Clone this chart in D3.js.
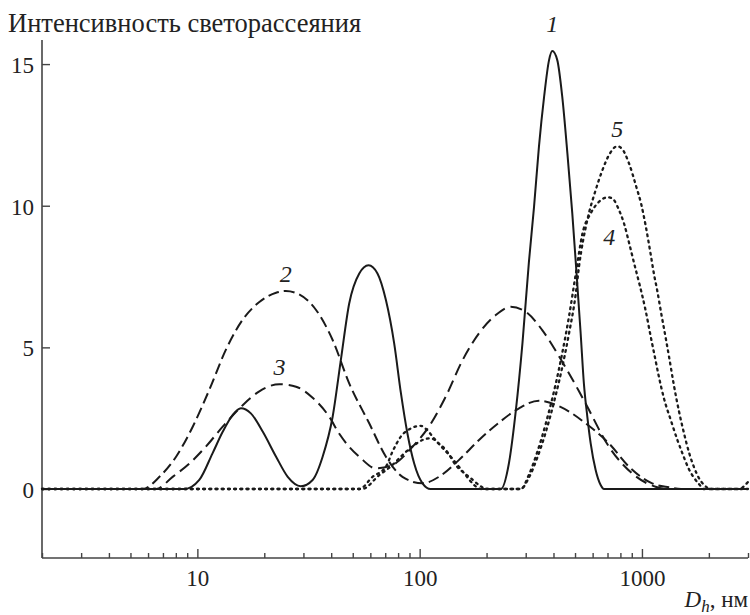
<!DOCTYPE html>
<html><head><meta charset="utf-8">
<script src="https://cdn.jsdelivr.net/npm/d3@7"></script>
</head>
<body style="margin:0"><svg id="chart" width="750" height="615" font-family="Liberation Serif"></svg>
<script>
// ---- data (D_h in nm, intensity) ----
const xTickValues = [10, 100, 1000];
const yTickValues = [0, 5, 10, 15];
const seriesLabels = ["1", "2", "3", "4", "5"];

const curve1 = [[2,0],[8.74,0],[10.2,0.32],[11.7,1.26],[13.0,2.02],[14.4,2.61],[15.7,2.85],[17.4,2.67],[19.7,2.02],[22.6,1.14],[25.5,0.43],[29.2,0.1],[33.0,0.32],[36.6,1.14],[40.6,2.55],[44.2,4.55],[48.2,6.55],[53.5,7.61],[58.9,7.9],[64.6,7.61],[70.5,6.67],[76.8,5.14],[82.3,3.4],[88.1,1.96],[94.5,0.9],[103,0.2],[112,0],[232,0],[252,0.9],[271,2.79],[290,5.14],[310,8.0],[327,9.96],[344,12.08],[363,13.85],[382,15.14],[395,15.46],[416,15.14],[438,13.85],[462,11.85],[486,9.73],[507,7.7],[530,5.5],[548,3.73],[568,2.55],[588,1.61],[619,0.67],[652,0.14],[675,0],[3000,0]];

const curve2 = [[2,0],[5.68,0],[6.75,0.43],[8.02,1.14],[9.53,2.2],[11.3,3.49],[13.5,4.95],[16.0,5.98],[19.0,6.6],[22.6,6.93],[25.0,6.99],[28.7,6.87],[34.2,6.32],[40.6,5.26],[48.2,3.73],[59.3,2.32],[70.5,1.14],[83.7,0.43],[103,0.2],[122,0.43],[150,1.02],[185,1.73],[228,2.35],[280,2.85],[344,3.12],[430,2.9],[558,2.32],[711,1.61],[874,0.79],[1112,0.2],[1322,0.06],[1500,0],[3000,0]];

const curve3 = [[2,0],[6.52,0],[7.74,0.43],[9.21,0.9],[10.9,1.49],[13.0,2.2],[16.0,2.96],[19.0,3.45],[23.4,3.7],[27.8,3.61],[33.0,3.22],[39.2,2.55],[43.5,1.95],[48.2,1.49],[53.5,1.14],[63.5,0.73],[75.5,0.85],[92.8,1.49],[110,2.2],[131,3.26],[156,4.55],[185,5.5],[220,6.14],[257,6.43],[300,6.26],[356,5.61],[430,4.6],[521,3.45],[558,3.02],[711,1.49],[904,0.55],[1152,0.08],[1300,0],[3000,0]];

const curve4 = [[2,0],[53.5,0],[61.4,0.43],[70.5,0.79],[75.5,1.32],[82.3,1.85],[91.3,2.14],[101,2.23],[108,2.08],[116,1.79],[127,1.44],[136,1.2],[148,0.85],[161,0.49],[176,0.14],[190,0],[285,0],[310,0.5],[338,1.3],[369,2.3],[409,3.7],[438,4.8],[470,6.1],[504,7.6],[540,9.02],[588,9.73],[641,10.14],[705,10.3],[748,10.2],[783,9.9],[830,9.38],[881,8.6],[920,8.0],[977,7.2],[1039,6.3],[1094,5.4],[1144,4.65],[1193,3.95],[1256,3.2],[1346,2.45],[1441,1.75],[1517,1.28],[1627,0.7],[1713,0.4],[1804,0.18],[1900,0],[3000,0]];

const curve5 = [[2,0],[55,0],[65.8,0.49],[75.5,0.85],[83.7,1.2],[94.5,1.55],[103,1.73],[112,1.79],[122,1.61],[133,1.32],[145,0.85],[156,0.61],[170,0.38],[185,0.14],[200,0],[285,0],[310,0.4],[338,1.1],[369,2.0],[409,3.3],[438,4.3],[470,5.5],[504,6.9],[521,7.85],[568,9.5],[619,10.55],[660,11.2],[718,11.85],[774,12.1],[815,12.0],[874,11.5],[943,10.67],[993,10.05],[1039,9.3],[1094,8.3],[1132,7.6],[1172,7.0],[1221,6.2],[1278,5.35],[1332,4.55],[1392,3.67],[1467,2.75],[1545,1.98],[1627,1.3],[1713,0.78],[1800,0.4],[1900,0.15],[2050,0],[2729,0],[3000,0.25]];

// label anchor points (D, intensity) for curve numbers
const labelPositions = [[395,16.4],[25,7.6],[23.4,4.3],[712,8.9],[774,12.7]];

// ---- chart ----
const svg = d3.select("#chart");
const mLeft = 42, mRight = 748, mTop = 40, mBottom = 558;
const x = d3.scaleLog().domain([2, 3000]).range([mLeft, mRight]);
const y = d3.scaleLinear().domain([-2.435, 15.85]).range([mBottom, mTop]);

const axisColor = "#444";
const textColor = "#222";
const serifText = sel => sel.attr("font-family", "Liberation Serif").style("font-family", "Liberation Serif");

// axes lines
svg.append("line").attr("x1", mLeft).attr("x2", mLeft).attr("y1", mTop).attr("y2", mBottom)
  .attr("stroke", axisColor).attr("stroke-width", 1.6);
svg.append("line").attr("x1", mLeft).attr("x2", mRight).attr("y1", mBottom).attr("y2", mBottom)
  .attr("stroke", axisColor).attr("stroke-width", 1.6);

// x ticks: major + minor
const minor = [];
[1, 10, 100, 1000].forEach(d => { for (let k = 2; k <= 9; k++) { const v = d * k; if (v >= 2 && v <= 3000) minor.push(v); } });
const xAxisMinor = d3.axisTop(x).tickValues(minor).tickSize(5).tickFormat("");
const xAxisMajor = d3.axisTop(x).tickValues(xTickValues).tickSize(9).tickFormat("");
[xAxisMinor, xAxisMajor].forEach(ax => {
  const a = svg.append("g").attr("transform", `translate(0,${mBottom})`).call(ax);
  a.select(".domain").remove();
  a.selectAll(".tick line").attr("stroke", axisColor).attr("stroke-width", 1.4);
});
// x tick labels
const xl = d3.axisBottom(x).tickValues(xTickValues).tickSize(0).tickPadding(0).tickFormat(d3.format("d"));
const xlg = svg.append("g").attr("transform", `translate(0,${mBottom})`).call(xl);
serifText(xlg).attr("font-size", 23);
xlg.select(".domain").remove();
xlg.selectAll(".tick text").attr("y", 28).attr("dy", 0).attr("font-size", 23).attr("fill", textColor)
  .call(serifText);

// y ticks
const yAxis = d3.axisRight(y).tickValues(yTickValues).tickSize(8).tickFormat("");
const ya = svg.append("g").attr("transform", `translate(${mLeft},0)`).call(yAxis);
ya.select(".domain").remove();
ya.selectAll(".tick line").attr("stroke", axisColor).attr("stroke-width", 1.4);
const yl = d3.axisLeft(y).tickValues(yTickValues).tickSize(0).tickPadding(0).tickFormat(d3.format("d"));
const ylg = svg.append("g").attr("transform", `translate(${mLeft - 8},0)`).call(yl);
serifText(ylg).attr("font-size", 23);
ylg.select(".domain").remove();
ylg.selectAll(".tick text").attr("dy", "0.36em").attr("font-size", 23).attr("fill", textColor)
  .call(serifText);

// curves
const line = d3.line().x(d => x(d[0])).y(d => y(d[1])).curve(d3.curveMonotoneX);
const styles = [
  { data: curve1, dash: null },
  { data: curve2, dash: "11,5" },
  { data: curve3, dash: "12,6" },
  { data: curve4, dash: "1.8,4.4" },
  { data: curve5, dash: "1.8,4.4" }
];
// draw dotted first, then dashed, then solid on top
[3, 4, 1, 2, 0].forEach(i => {
  const s = styles[i];
  svg.append("path").datum(s.data).attr("d", line)
    .attr("fill", "none").attr("stroke", "#1a1a1a")
    .attr("stroke-width", i >= 3 ? 2.3 : 2)
    .attr("stroke-dasharray", s.dash)
    .attr("stroke-linecap", i >= 3 ? "round" : "butt")
    .attr("stroke-linejoin", "round");
});

// curve labels
svg.selectAll(".clabel").data(labelPositions).enter().append("text")
  .attr("class", "clabel")
  .attr("x", d => x(d[0])).attr("y", d => y(d[1]) + 8)
  .attr("text-anchor", "middle")
  .attr("fill", textColor)
  .attr("font-size", 24).attr("font-style", "italic")
  .call(serifText)
  .text((d, i) => seriesLabels[i]);

// axis titles
svg.append("text").attr("x", 8).attr("y", 32).attr("font-size", 26.5)
  .attr("fill", textColor).call(serifText)
  .text("Интенсивность светорассеяния");
const xt = svg.append("text").attr("x", 748).attr("y", 607).attr("text-anchor", "end")
  .attr("font-size", 23).attr("fill", textColor).call(serifText);
xt.append("tspan").attr("font-style", "italic").text("D");
xt.append("tspan").attr("font-style", "italic").attr("font-size", 17).attr("dy", 5).text("h");
xt.append("tspan").attr("dy", -5).text(", нм");
</script></body></html>
